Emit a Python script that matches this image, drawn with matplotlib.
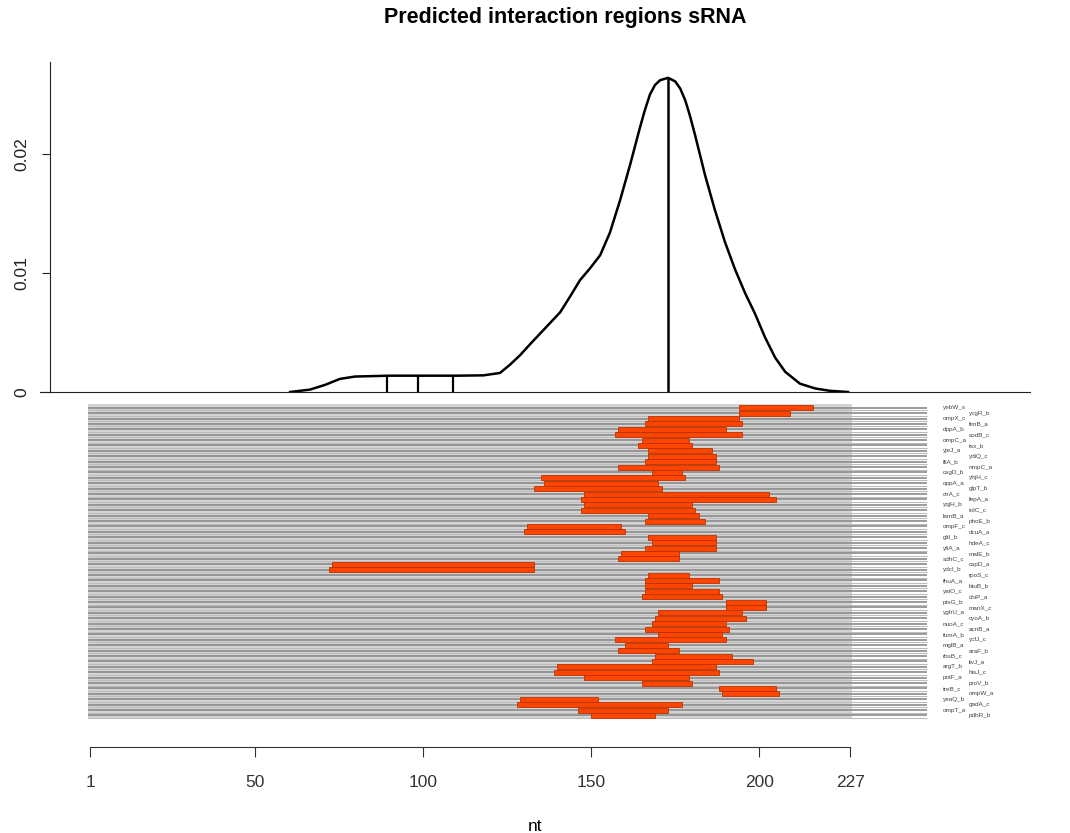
import matplotlib
matplotlib.use("Agg")
import matplotlib.pyplot as plt
from matplotlib.patches import Rectangle

plt.rcParams['font.family'] = ['Liberation Sans', 'DejaVu Sans']

# interaction regions on the sRNA (nt), one row per target
starts = [194, 194, 167, 166, 158, 157, 165, 164, 167, 167,
          166, 158, 168, 135, 136, 133, 148, 147, 148, 147,
          167, 166, 131, 130, 167, 168, 166, 159, 158, 73,
          72, 167, 166, 166, 166, 165, 190, 190, 170, 169,
          168, 166, 170, 157, 160, 158, 169, 168, 140, 139,
          148, 165, 188, 189, 129, 128, 146, 150]
ends = [216, 209, 194, 195, 190, 195, 179, 180, 186, 187,
        187, 188, 177, 178, 170, 171, 203, 205, 180, 181,
        182, 184, 159, 160, 187, 187, 187, 176, 176, 133,
        133, 179, 188, 180, 188, 189, 202, 202, 195, 196,
        190, 191, 189, 190, 173, 176, 192, 198, 187, 188,
        179, 180, 205, 206, 152, 177, 173, 169]
targets = ["yebW_s", "ycgR_b", "ompX_c", "fimB_a", "dppA_b", "sodB_c", "ompC_a", "tsx_b",
           "yjeJ_a", "ydiQ_c", "fliA_b", "nmpC_a", "csgD_b", "yhjH_c", "oppA_a", "glpT_b",
           "cirA_c", "fepA_a", "yqjH_b", "tolC_c", "lamB_a", "phoE_b", "ompF_c", "dcuA_a",
           "gltI_b", "hdeA_c", "yfiA_a", "malE_b", "sdhC_c", "cspD_a", "ydcI_b", "rpoS_c",
           "fhuA_a", "btuB_b", "yaiO_c", "chiP_a", "ptsG_b", "manX_c", "yghU_a", "cyoA_b",
           "nuoA_c", "acnB_a", "fumA_b", "ycfJ_c", "mglB_a", "araF_b", "rbsB_c", "livJ_a",
           "argT_b", "hisJ_c", "potF_a", "proV_b", "treB_c", "ompW_a", "yeaQ_b", "gadA_c",
           "ompT_a", "pdhR_b"]

# density of predicted interaction positions
dens_nt = [60.5, 66.4, 70.9, 75.3, 79.8, 90, 100, 110, 118, 122.9,
           125.9, 128.9, 131.8, 134.8, 137.8, 140.8, 143.7, 146.7, 149.7, 152.7,
           155.6, 158.6, 161.6, 164.5, 166.0, 167.5, 169.0, 170.5, 172.9, 175.0,
           176.5, 178.0, 179.4, 180.9, 183.9, 186.8, 189.8, 192.8, 195.8, 198.7,
           201.7, 204.7, 207.7, 212.1, 216.6, 221.0, 226.4]
dens_val = [0.0, 0.0002, 0.0006, 0.0011, 0.00130, 0.00137, 0.00137, 0.00137, 0.00140, 0.0016,
            0.0023, 0.0031, 0.0040, 0.0049, 0.0058, 0.0067, 0.0080, 0.0094, 0.0104, 0.0115,
            0.0134, 0.0161, 0.0191, 0.0222, 0.0237, 0.0250, 0.0258, 0.0262, 0.0264, 0.0261,
            0.0255, 0.0245, 0.0232, 0.0216, 0.0182, 0.0153, 0.0126, 0.0103, 0.0083, 0.0066,
            0.0046, 0.0029, 0.0017, 0.0007, 0.0003, 0.0001, 0.0]
peak_nt = 172.9
peak_val = 0.0264
rug_nt = [89.2, 98.6, 108.9]
rug_val = 0.00137
srna_len = 227
xticks = [1, 50, 100, 150, 200, 227]

W, H = 1070, 833
fig = plt.figure(figsize=(W / 100, H / 100), dpi=100)
xlim = (-13.87, 280.5)

def box(l, t, r, b):
    return [l / W, 1 - b / H, (r - l) / W, (b - t) / H]

fig.text(565 / W, 1 - 18 / H, 'Predicted interaction regions sRNA', fontsize=15.5,
         fontweight='bold', ha='center', va='center')

# density panel
ax1 = fig.add_axes(box(40, 62, 1030, 392))
ax1.plot(dens_nt, dens_val, color='black', lw=1.8, solid_joinstyle='round')
ax1.vlines(peak_nt, 0, peak_val, color='black', lw=1.8)
ax1.vlines(rug_nt, 0, rug_val, color='black', lw=1.6)
ax1.set_xlim(xlim)
ax1.set_ylim(0, 0.02773)
for s in ['top', 'right']:
    ax1.spines[s].set_visible(False)
ax1.spines['left'].set_position(('data', -10.9))
ax1.spines['left'].set_color('#222222')
ax1.spines['bottom'].set_color('#222222')
ax1.set_xticks([])
ax1.set_yticks([0, 0.01, 0.02])
ax1.set_yticklabels(['0', '0.01', '0.02'], rotation=90, va='center')
ax1.tick_params(axis='y', length=6, labelsize=12.5, pad=9, colors='#222222')

# interaction regions panel
n = len(starts)
rows = list(range(1, n + 1))
ax2 = fig.add_axes(box(40, 400, 1030, 725))
ax2.set_xlim(xlim)
ax2.set_ylim(59.76, -0.426)
ax2.add_patch(Rectangle((0.4, 0.3), srna_len + 0.2, n + 0.4, facecolor='#d4d4d4',
                        edgecolor='none', zorder=0))
for r in rows:
    ax2.plot([0.4, 250], [r, r], color='#8a8a8a', lw=1.2, zorder=1, solid_capstyle='butt')
    ax2.plot([0.4, 250], [r + 0.45, r + 0.45], color='#bcbcbc', lw=0.8, zorder=1,
             solid_capstyle='butt')
ax2.barh(rows, [e - s for s, e in zip(starts, ends)], left=starts, height=0.95,
         color='#ff4500', edgecolor='#b83200', lw=0.6, zorder=2)
for r, name in zip(rows, targets):
    xpos = 254.6 if r % 2 else 262.3
    ax2.text(xpos, r, name, fontsize=4.6, color='#444444', va='center', ha='left')

for s in ['top', 'right', 'left']:
    ax2.spines[s].set_visible(False)
ax2.set_yticks([])
ax2.spines['bottom'].set_position(('outward', 16))
ax2.spines['bottom'].set_bounds(1, srna_len)
ax2.spines['bottom'].set_color('#333333')
ax2.set_xticks(xticks)
ax2.set_xticklabels([str(t) for t in xticks])
ax2.tick_params(axis='x', length=7, labelsize=12.5, pad=13, colors='#333333')
ax2.set_xlabel('nt', fontsize=12.5, labelpad=21)

fig.savefig('out.png', dpi=100)
